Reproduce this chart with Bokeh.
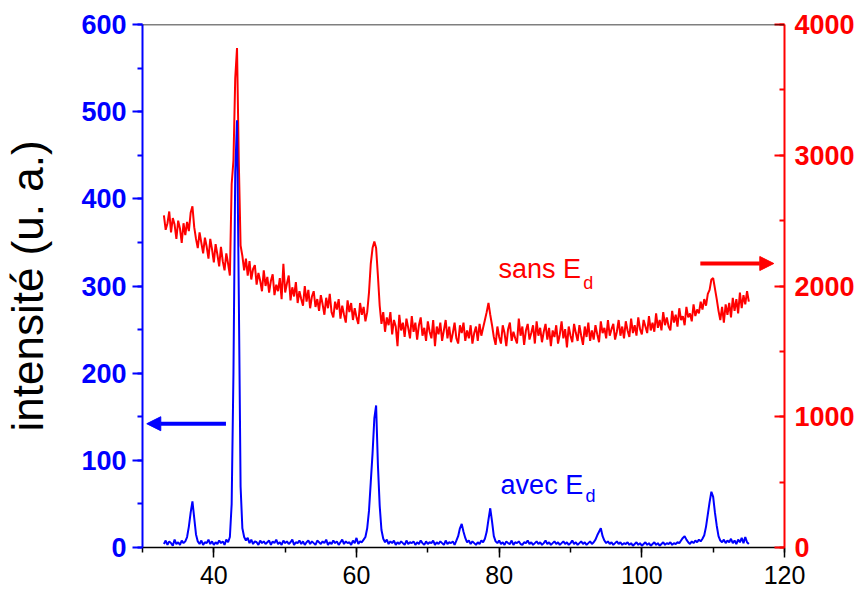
from bokeh.plotting import figure
from bokeh.models import LinearAxis, Range1d, SingleIntervalTicker, Label, Arrow, NormalHead, Span
from bokeh.embed import file_html
from bokeh.resources import INLINE

# 2-theta sampling grid (degrees)
theta_start = 33.0
theta_step = 0.25

# "sans Ed" series (right axis)
sans_ed = [
    2540, 2430, 2480, 2570,  2410, 2520, 2470, 2360,  2500, 2440, 2330, 2480,
    2390, 2490, 2420, 2560,  2610, 2450, 2360, 2290,  2410, 2330, 2250, 2370,
    2300, 2210, 2360, 2280,  2180, 2320, 2240, 2150,  2300, 2190, 2120, 2250,
    2170, 2080, 2780, 2960,  3590, 3820, 2950, 2310,  2230, 2120, 2210, 2080,
    2190, 2050, 2130, 2160,  2010, 2100, 2040, 1960,  2120, 2000, 2070, 1950,
    2040, 2090, 1930, 2010,  1960, 2060, 1900, 2170,  1950, 2020, 2080, 1890,
    1990, 1920, 2030, 1870,  1960, 1900, 1850, 2000,  1880, 1970, 1830, 1920,
    1960, 1840, 1900, 1810,  1930, 1860, 1780, 1910,  1830, 1940, 1800, 1760,
    1880, 1820, 1900, 1750,  1850, 1780, 1720, 1890,  1800, 1870, 1740, 1830,
    1760, 1710, 1870, 1780,  1840, 1730, 1800, 1950,  2170, 2290, 2340, 2290,
    2080, 1850, 1710, 1800,  1650, 1760, 1700, 1800,  1630, 1740, 1690, 1540,
    1780, 1660, 1720, 1610,  1750, 1680, 1600, 1770,  1650, 1720, 1590, 1700,
    1760, 1620, 1680, 1580,  1730, 1650, 1600, 1740,  1540, 1690, 1630, 1720,
    1580, 1660, 1740, 1600,  1690, 1570, 1640, 1720,  1600, 1560, 1700, 1640,
    1720, 1580, 1660, 1600,  1700, 1560, 1640, 1690,  1580, 1710, 1620, 1680,
    1740, 1800, 1870, 1780,  1700, 1610, 1550, 1690,  1610, 1560, 1700, 1640,
    1540, 1670, 1720, 1580,  1650, 1600, 1560, 1750,  1620, 1690, 1550, 1660,
    1710, 1590, 1640, 1700,  1560, 1730, 1620, 1680,  1570, 1650, 1710, 1590,
    1680, 1540, 1660, 1610,  1700, 1560, 1630, 1730,  1600, 1670, 1530, 1690,
    1620, 1570, 1710, 1640,  1580, 1700, 1620, 1550,  1690, 1610, 1720, 1580,
    1660, 1590, 1700, 1630,  1570, 1730, 1640, 1680,  1600, 1740, 1620, 1670,
    1710, 1590, 1650, 1740,  1620, 1690, 1600, 1730,  1660, 1610, 1750, 1640,
    1700, 1620, 1760, 1670,  1630, 1740, 1690, 1640,  1770, 1660, 1720, 1650,
    1790, 1680, 1740, 1660,  1800, 1700, 1760, 1690,  1660, 1810, 1720, 1780,
    1690, 1830, 1740, 1770,  1700, 1840, 1760, 1790,  1730, 1860, 1770, 1820,
    1790, 1880, 1820, 1900,  1850, 1940, 1970, 2050,  2060, 1980, 1900, 1810,
    1740, 1840, 1720, 1860,  1780, 1870, 1760, 1910,  1810, 1900, 1790, 1950,
    1830, 1930, 1860, 1960,  1880,
]

# "avec Ed" series (left axis)
avec_ed = [
    4, 8, 3, 7,  5, 2, 9, 4,  6, 3, 8, 5,  7, 12, 24, 40,  53, 34, 15, 7,
    4, 8, 3, 6,  5, 9, 4, 7,  3, 6, 4, 8,  5, 7, 3, 9,  6, 12, 50, 200,
    430, 490, 290, 70,  22, 12, 8, 11,  5, 9, 4, 7,  6, 3, 8, 5,  7, 4, 6, 8,
    3, 7, 5, 9,  4, 6, 3, 8,  5, 7, 4, 6,  9, 3, 6, 5,  8, 4, 7, 3,
    6, 8, 4, 7,  5, 3, 8, 6,  4, 7, 5, 9,  3, 6, 4, 8,  5, 7, 3, 6,
    9, 4, 7, 5,  6, 3, 8, 5,  11, 4, 7, 6,  9, 12, 22, 42,  75, 108, 148, 163,
    95, 48, 20, 10,  6, 9, 4, 7,  5, 8, 3, 6,  4, 7, 5, 3,  8, 4, 6, 5,
    7, 3, 6, 4,  8, 5, 3, 7,  4, 6, 5, 8,  3, 6, 4, 7,  5, 3, 8, 4,
    6, 5, 7, 3,  8, 13, 22, 27,  18, 11, 6, 8,  4, 7, 5, 3,  6, 4, 8, 6,
    10, 18, 32, 45,  30, 13, 7, 5,  8, 4, 6, 3,  7, 5, 4, 8,  3, 6, 5, 7,
    4, 3, 6, 5,  8, 4, 6, 3,  5, 7, 4, 6,  3, 5, 8, 4,  6, 3, 5, 7,
    4, 6, 3, 5,  7, 4, 6, 3,  5, 8, 4, 6,  3, 5, 7, 4,  6, 3, 5, 7,
    4, 6, 9, 14,  18, 22, 13, 8,  5, 7, 4, 6,  3, 5, 7, 4,  6, 3, 5, 4,
    6, 3, 5, 2,  4, 6, 3, 5,  2, 4, 6, 3,  5, 2, 4, 6,  3, 5, 2, 4,
    6, 3, 5, 4,  6, 3, 5, 4,  6, 5, 8, 11,  13, 9, 6, 4,  7, 5, 8, 6,
    9, 7, 10, 14,  24, 38, 52, 64,  58, 40, 25, 13,  8, 6, 9, 5,  8, 6, 10, 5,
    8, 4, 9, 6,  11, 5, 12, 6,  4,
]

x_sans = [theta_start + theta_step * i for i in range(len(sans_ed))]
x_avec = [theta_start + theta_step * i for i in range(len(avec_ed))]

FONT = "Liberation Sans"
BLUE = "#0000FF"
RED = "#FF0000"

p = figure(frame_width=642, frame_height=523,
           x_range=Range1d(30, 120), y_range=Range1d(0, 600),
           output_backend="svg", toolbar_location=None,
           min_border_left=130, min_border_right=73,
           min_border_top=24, min_border_bottom=40)
p.extra_y_ranges = {"right": Range1d(0, 4000)}
p.grid.visible = False
p.outline_line_color = None
p.background_fill_color = "white"
p.border_fill_color = "white"

# bottom axis
xa = p.xaxis[0]
xa.ticker = SingleIntervalTicker(interval=20, num_minor_ticks=2)
xa.axis_line_color = "black"
xa.axis_line_width = 1.5
xa.major_tick_line_color = "black"
xa.minor_tick_line_color = "black"
xa.major_tick_line_width = 1.5
xa.minor_tick_line_width = 1.5
xa.major_tick_out = 10
xa.major_tick_in = 0
xa.minor_tick_out = 5
xa.minor_tick_in = 0
xa.major_label_text_font = FONT
xa.major_label_text_font_size = "25px"
xa.major_label_text_color = "black"
xa.major_label_standoff = 8

# left axis
ya = p.yaxis[0]
ya.ticker = SingleIntervalTicker(interval=100, num_minor_ticks=2)
ya.axis_line_color = BLUE
ya.axis_line_width = 2
ya.major_tick_line_color = BLUE
ya.minor_tick_line_color = BLUE
ya.major_tick_line_width = 2
ya.minor_tick_line_width = 2
ya.major_tick_out = 10
ya.major_tick_in = 0
ya.minor_tick_out = 5
ya.minor_tick_in = 0
ya.major_label_text_font = FONT
ya.major_label_text_font_size = "27px"
ya.major_label_text_font_style = "bold"
ya.major_label_text_color = BLUE
ya.major_label_standoff = 6
ya.axis_label = "intensité (u. a.)"
ya.axis_label_text_font = FONT
ya.axis_label_text_font_size = "44px"
ya.axis_label_text_font_style = "normal"
ya.axis_label_text_color = "black"
ya.axis_label_standoff = 26

# right axis
ra = LinearAxis(y_range_name="right",
                ticker=SingleIntervalTicker(interval=1000, num_minor_ticks=2))
ra.axis_line_color = RED
ra.axis_line_width = 2
ra.major_tick_line_color = RED
ra.minor_tick_line_color = RED
ra.major_tick_line_width = 2
ra.minor_tick_line_width = 2
ra.major_tick_in = 10
ra.major_tick_out = 0
ra.minor_tick_in = 5
ra.minor_tick_out = 0
ra.major_label_text_font = FONT
ra.major_label_text_font_size = "27px"
ra.major_label_text_font_style = "bold"
ra.major_label_text_color = RED
ra.major_label_standoff = 10
p.add_layout(ra, "right")

# top frame line
p.add_layout(Span(location=600, dimension="width", line_color="black", line_width=1.5))

# data
p.line(x_sans, sans_ed, y_range_name="right", line_color=RED, line_width=2.0)
p.line(x_avec, avec_ed, line_color=BLUE, line_width=2.0)

# annotations
p.add_layout(Label(x=79.9, y=320, text="sans E", text_color=RED, text_font=FONT,
                   text_font_size="27px", text_baseline="alphabetic"))
p.add_layout(Label(x=91.8, y=304, text="d", text_color=RED, text_font=FONT,
                   text_font_size="18px", text_baseline="alphabetic"))
p.add_layout(Label(x=80.2, y=72, text="avec E", text_color=BLUE, text_font=FONT,
                   text_font_size="27px", text_baseline="alphabetic"))
p.add_layout(Label(x=92.1, y=59, text="d", text_color=BLUE, text_font=FONT,
                   text_font_size="18px", text_baseline="alphabetic"))

p.add_layout(Arrow(end=NormalHead(size=14, fill_color=BLUE, line_color=BLUE),
                   x_start=41.7, y_start=142, x_end=30.6, y_end=142,
                   line_color=BLUE, line_width=4))
p.add_layout(Arrow(end=NormalHead(size=14, fill_color=RED, line_color=RED),
                   x_start=108.2, y_start=2172, x_end=118.5, y_end=2172,
                   y_range_name="right", line_color=RED, line_width=4))

open("out.html", "w").write(file_html(p, INLINE))
